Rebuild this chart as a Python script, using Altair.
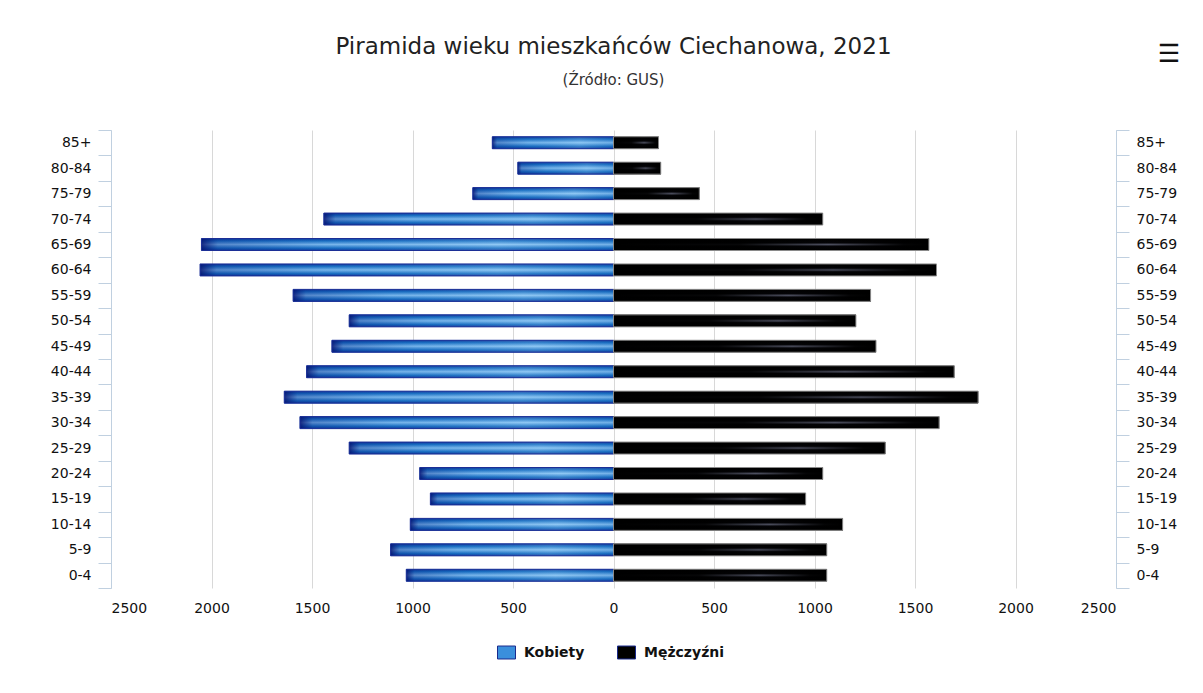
import altair as alt
import pandas as pd

# ---- data ----
age_groups = ["85+", "80-84", "75-79", "70-74", "65-69", "60-64", "55-59", "50-54",
              "45-49", "40-44", "35-39", "30-34", "25-29", "20-24", "15-19", "10-14",
              "5-9", "0-4"]
kobiety = [603, 476, 700, 1441, 2050, 2057, 1594, 1315, 1401, 1527, 1638, 1560,
           1315, 964, 911, 1011, 1109, 1031]
mezczyzni = [224, 235, 427, 1041, 1569, 1607, 1279, 1206, 1306, 1695, 1814, 1620,
             1352, 1041, 956, 1140, 1061, 1061]
series = ["Kobiety", "Mężczyźni"]
x_ticks = [-2500, -2000, -1500, -1000, -500, 0, 500, 1000, 1500, 2000, 2500]

rows = []
for g, k, m in zip(age_groups, kobiety, mezczyzni):
    rows.append({"wiek": g, "plec": series[0], "wartosc": -k})
    rows.append({"wiek": g, "plec": series[1], "wartosc": m})
df = pd.DataFrame(rows)

FONT = "DejaVu Sans"
AXIS_BLUE = "#C0D0E0"

x_enc = alt.X(
    "wartosc:Q",
    stack=None,
    scale=alt.Scale(domain=[-2500, 2500], nice=False, zero=False),
    axis=alt.Axis(values=x_ticks, labelExpr="abs(datum.value)", title=None,
                  domain=False, ticks=False, grid=True, gridColor="#D8D8D8",
                  gridWidth=1, labelFont=FONT, labelFontSize=14, labelColor="#111",
                  labelPadding=13),
)


def y_axis(orient):
    return alt.Y(
        "wiek:N", sort=age_groups,
        scale=alt.Scale(paddingInner=0, paddingOuter=0),
        axis=alt.Axis(orient=orient, title=None, tickBand="extent", tickSize=13,
                      tickColor=AXIS_BLUE, domainColor=AXIS_BLUE, tickWidth=1,
                      domainWidth=1, labelFont=FONT, labelFontSize=14,
                      labelColor="#111", labelPadding=7, grid=False),
    )


y_none = alt.Y("wiek:N", sort=age_groups,
               scale=alt.Scale(paddingInner=0, paddingOuter=0), axis=None)

base = alt.Chart(df)
BAR = 12

legend_layer = base.mark_bar(size=BAR).encode(
    x=x_enc,
    y=y_axis("left"),
    color=alt.Color(
        "plec:N",
        scale=alt.Scale(domain=series, range=["#3a8fdc", "#000000"]),
        legend=alt.Legend(orient="none", legendX=386, legendY=513,
                          direction="horizontal", title=None, labelFont=FONT,
                          labelFontSize=14, labelFontWeight="bold",
                          labelColor="#111", columnPadding=30, labelOffset=8,
                          symbolType="M-1,-0.72L1,-0.72L1,0.72L-1,0.72Z",
                          symbolSize=324, symbolStrokeWidth=1,
                          symbolStrokeColor="#1a2a8c"),
    ),
)

fem_v = base.transform_filter(alt.datum.plec == series[0]).mark_bar(
    size=BAR,
    fill=alt.Gradient(gradient="linear", x1=0, x2=0, y1=0, y2=1, stops=[
        alt.GradientStop(offset=0, color="#123c9e"),
        alt.GradientStop(offset=0.2, color="#1a74c6"),
        alt.GradientStop(offset=0.5, color="#80c0f2"),
        alt.GradientStop(offset=0.8, color="#1a74c6"),
        alt.GradientStop(offset=1, color="#123c9e"),
    ]),
).encode(x=x_enc, y=y_none)

fem_h = base.transform_filter(alt.datum.plec == series[0]).mark_bar(
    size=BAR, stroke="#1c2f96", strokeWidth=1,
    fill=alt.Gradient(gradient="linear", x1=0, x2=1, y1=0, y2=0, stops=[
        alt.GradientStop(offset=0, color="rgba(5,15,110,0.85)"),
        alt.GradientStop(offset=0.04, color="rgba(5,30,130,0.35)"),
        alt.GradientStop(offset=0.3, color="rgba(5,40,140,0.08)"),
        alt.GradientStop(offset=0.72, color="rgba(255,255,255,0.12)"),
        alt.GradientStop(offset=1, color="rgba(10,60,150,0.12)"),
    ]),
).encode(x=x_enc, y=y_none)

male_v = base.transform_filter(alt.datum.plec == series[1]).mark_bar(
    size=BAR,
    fill=alt.Gradient(gradient="linear", x1=0, x2=0, y1=0, y2=1, stops=[
        alt.GradientStop(offset=0, color="#000000"),
        alt.GradientStop(offset=0.35, color="#050508"),
        alt.GradientStop(offset=0.5, color="#5a5d70"),
        alt.GradientStop(offset=0.65, color="#050508"),
        alt.GradientStop(offset=1, color="#000000"),
    ]),
).encode(x=x_enc, y=y_none)

male_h = base.transform_filter(alt.datum.plec == series[1]).mark_bar(
    size=BAR, stroke="#8a8a8a", strokeWidth=1,
    fill=alt.Gradient(gradient="linear", x1=0, x2=1, y1=0, y2=0, stops=[
        alt.GradientStop(offset=0, color="rgba(0,0,0,1)"),
        alt.GradientStop(offset=0.4, color="rgba(0,0,0,0.92)"),
        alt.GradientStop(offset=0.68, color="rgba(0,0,0,0.15)"),
        alt.GradientStop(offset=0.92, color="rgba(0,0,0,0.95)"),
        alt.GradientStop(offset=1, color="rgba(0,0,0,1)"),
    ]),
).encode(x=x_enc, y=y_axis("right"))

menu_icon = alt.Chart(pd.DataFrame({"t": ["☰"]})).mark_text(
    font=FONT, fontSize=25, fontWeight="bold", color="#111"
).encode(x=alt.value(1058), y=alt.value(-76), text="t:N")

chart = alt.layer(
    legend_layer, fem_v, fem_h, male_v, male_h, menu_icon
).resolve_axis(y="independent").properties(
    width=1005,
    height=458,
    autosize=alt.AutoSizeParams(type="none"),
    padding={"left": 103, "top": 122, "right": 79, "bottom": 97},
    background="white",
    title=alt.TitleParams(
        "Piramida wieku mieszkańców Ciechanowa, 2021",
        subtitle="(Źródło: GUS)",
        font=FONT, fontSize=23, fontWeight="normal", color="#222",
        subtitleFont=FONT, subtitleFontSize=15, subtitleColor="#333",
        anchor="middle", frame="group", offset=48, subtitlePadding=14, dy=94,
    ),
).configure_view(stroke=None)

chart.save("out.html", embed_options={"renderer": "svg", "actions": False})
